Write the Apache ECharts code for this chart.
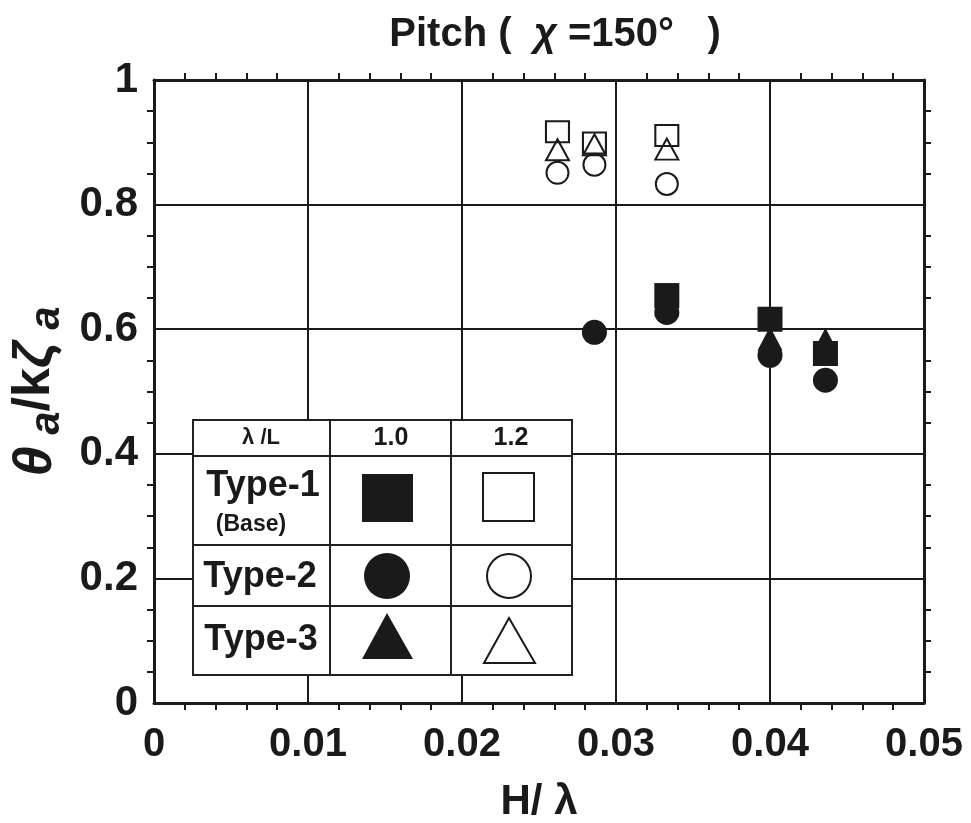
<!DOCTYPE html>
<html>
<head>
<meta charset="utf-8">
<script src="https://cdn.jsdelivr.net/npm/echarts@6/dist/echarts.min.js"></script>
<style>html,body{margin:0;padding:0;background:#fff}#c{width:971px;height:823px}</style>
</head>
<body>
<div id="c"></div>
<script>
// ---- data (H/λ, θa/kζa) ----
const xTicks = [0, 0.01, 0.02, 0.03, 0.04, 0.05];
const yTicks = [0, 0.2, 0.4, 0.6, 0.8, 1];
const type1_10 = [[0.0333, 0.654], [0.0400, 0.616], [0.0436, 0.561]];
const type2_10 = [[0.0286, 0.595], [0.0333, 0.627], [0.0400, 0.558], [0.0436, 0.518]];
const type3_10 = [[0.0333, 0.640], [0.0400, 0.585], [0.0436, 0.583]];
const type1_12 = [[0.0262, 0.917], [0.0286, 0.899], [0.0333, 0.911]];
const type2_12 = [[0.0262, 0.851], [0.0286, 0.864], [0.0333, 0.833]];
const type3_12 = [[0.0262, 0.888], [0.0286, 0.896], [0.0333, 0.889]];
const legendHeader = ['λ /L', '1.0', '1.2'];
const legendRows = ['Type-1', 'Type-2', 'Type-3'];

const FONT = '"Liberation Sans", Arial, sans-serif';
const INK = '#1a1a1a';

const chart = echarts.init(document.getElementById('c'), null, {renderer: 'canvas'});

function axisBase(extra) {
  return Object.assign({
    axisLine: {show: true, onZero: false, lineStyle: {color: INK, width: 3}},
    axisTick: {show: false},
    splitLine: {show: false},
    minorSplitLine: {show: false}
  }, extra);
}

const filled = {color: INK, borderColor: INK, borderWidth: 0, opacity: 1};
const open = {color: 'rgba(255,255,255,0)', borderColor: INK, borderWidth: 2, opacity: 1};

function sc(name, data, symbol, size, style, z) {
  return {name, type: 'scatter', data, symbol, symbolSize: size, itemStyle: style, z: z || 3, xAxisIndex: 0, yAxisIndex: 0, emphasis: {disabled: true}};
}

// legend table geometry
const TL = 193, TR = 572, TT = 420, TB = 675;
const C1 = 330, C2 = 451;
const R1 = 456, R2 = 545, R3 = 606;
const lineStyle = {stroke: '#222', lineWidth: 2};
function hl(y) { return {type: 'line', shape: {x1: TL, y1: y, x2: TR, y2: y}, style: lineStyle, z: 101}; }
function vl(x) { return {type: 'line', shape: {x1: x, y1: TT, x2: x, y2: TB}, style: lineStyle, z: 101}; }
function txt(x, y, t, size, weight) {
  return {type: 'text', x, y, style: {text: t, font: (weight || 'bold') + ' ' + size + 'px ' + FONT, fill: INK, align: 'center', verticalAlign: 'middle'}, z: 102};
}

const graphics = [
  {type: 'rect', shape: {x: TL, y: TT, width: TR - TL, height: TB - TT}, style: {fill: '#fff', stroke: '#222', lineWidth: 2}, z: 100},
  hl(R1), hl(R2), hl(R3), vl(C1), vl(C2),
  txt(261, 438, legendHeader[0], 22),
  txt(391, 438, legendHeader[1], 25),
  txt(511, 438, legendHeader[2], 25),
  txt(263, 486, legendRows[0], 36),
  txt(251, 525, '(Base)', 23),
  txt(260, 577, legendRows[1], 36),
  txt(261, 640, legendRows[2], 36),
  // symbols
  {type: 'rect', shape: {x: 362, y: 474, width: 51, height: 48}, style: {fill: INK}, z: 102},
  {type: 'rect', shape: {x: 483, y: 473, width: 51, height: 48}, style: {fill: '#fff', stroke: INK, lineWidth: 2}, z: 102},
  {type: 'circle', shape: {cx: 387, cy: 576, r: 23}, style: {fill: INK}, z: 102},
  {type: 'circle', shape: {cx: 509, cy: 576, r: 22}, style: {fill: '#fff', stroke: INK, lineWidth: 2}, z: 102},
  {type: 'polygon', shape: {points: [[387, 613], [413, 659], [362, 659]]}, style: {fill: INK}, z: 102},
  {type: 'polygon', shape: {points: [[509, 618], [535, 663], [484, 663]]}, style: {fill: '#fff', stroke: INK, lineWidth: 2}, z: 102}
];

const mt = (n) => ({show: true, inside: true, length: 7, splitNumber: n, lineStyle: {color: INK, width: 2}});

const option = {
  backgroundColor: '#fff',
  animation: false,
  title: {
    text: '{a|Pitch (  }{b|χ}{a| =150°   )}',
    left: 550, top: 10, textAlign: 'center',
    textStyle: {
      rich: {
        a: {fontFamily: FONT, fontWeight: 'bold', fontSize: 40, color: INK},
        b: {fontFamily: FONT, fontWeight: 'bold', fontStyle: 'italic', fontSize: 40, color: INK}
      }
    }
  },
  grid: {left: 154, right: 47, top: 80, bottom: 120, containLabel: false, outerBoundsMode: 'none'},
  xAxis: [
    axisBase({
      type: 'value', position: 'bottom', min: 0, max: 0.05, interval: 0.01,
      minorTick: mt(5),
      splitLine: {show: true, lineStyle: {color: INK, width: 2}},
      axisLabel: {margin: 22, fontFamily: FONT, fontWeight: 'bold', fontSize: 40, color: INK,
        formatter: v => { const i = xTicks.findIndex(t => Math.abs(t - v) < 1e-9); return i >= 0 ? String(xTicks[i]) : ''; }},
      name: 'H/ λ', nameLocation: 'middle', nameGap: 78,
      nameTextStyle: {fontFamily: FONT, fontWeight: 'bold', fontSize: 42, color: INK}
    }),
    axisBase({
      type: 'value', position: 'top', min: 0, max: 0.05, interval: 0.01,
      minorTick: mt(5),
      axisLabel: {show: false}
    })
  ],
  yAxis: [
    axisBase({
      type: 'value', position: 'left', min: 0, max: 1, interval: 0.2,
      minorTick: mt(4),
      splitLine: {show: true, lineStyle: {color: INK, width: 2}},
      axisLabel: {margin: 16, fontFamily: FONT, fontWeight: 'bold', fontSize: 42, color: INK,
        formatter: v => { const i = yTicks.findIndex(t => Math.abs(t - v) < 1e-9); return i >= 0 ? String(yTicks[i]) : ''; }},
      name: '{g|θ}{s| a}{n|/k}{g|ζ}{s| a}', nameLocation: 'middle', nameGap: 84, nameRotate: 90,
      nameTextStyle: {
        color: INK,
        rich: {
          g: {fontFamily: FONT, fontWeight: 'bold', fontSize: 54, fontStyle: 'italic', color: INK, lineHeight: 60, verticalAlign: 'top'},
          n: {fontFamily: FONT, fontWeight: 'bold', fontSize: 52, color: INK, lineHeight: 60, verticalAlign: 'top'},
          s: {fontFamily: FONT, fontWeight: 'bold', fontSize: 42, fontStyle: 'italic', color: INK, lineHeight: 60, verticalAlign: 'bottom', padding: [16, 0, 0, 0]}
        }
      }
    }),
    axisBase({
      type: 'value', position: 'right', min: 0, max: 1, interval: 0.2,
      minorTick: mt(4),
      axisLabel: {show: false}
    })
  ],
  series: [
    sc('Type-2 1.2', type2_12, 'circle', 22, open, 3),
    sc('Type-1 1.2', type1_12, 'rect', [23, 21], open, 4),
    sc('Type-3 1.2', type3_12, 'triangle', [23, 21], open, 5),
    sc('Type-2 1.0', type2_10, 'circle', 25, filled, 3),
    sc('Type-3 1.0', type3_10, 'triangle', [25, 24], filled, 4),
    sc('Type-1 1.0', type1_10, 'rect', [25, 25], filled, 5)
  ],
  graphic: graphics
};
chart.setOption(option);
</script>
</body>
</html>
